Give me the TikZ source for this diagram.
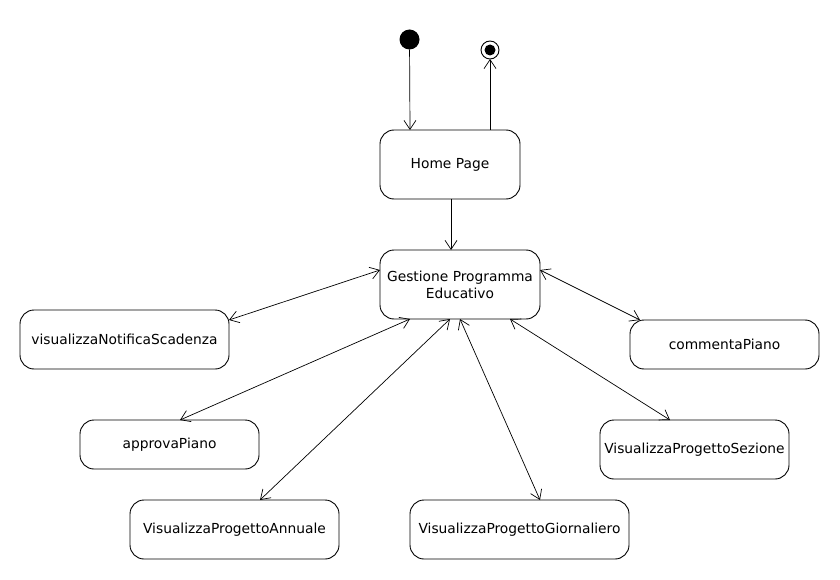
\documentclass[tikz,border=0pt]{standalone}
\usepackage{fontspec}
\setmainfont{DejaVu Sans}
\usetikzlibrary{arrows.meta,calc}
\begin{document}
\begin{tikzpicture}[x=1pt,y=-1pt,
  state/.style={draw,rectangle,rounded corners=14pt,line width=0.9pt,outer sep=0pt,inner sep=0pt,align=center,font=\fontsize{13.8}{17}\selectfont},
  conn/.style={line width=0.7pt,{Straight Barb[length=9pt,width=12pt]}-{Straight Barb[length=9pt,width=12pt]}},
  flow/.style={line width=0.7pt,-{Straight Barb[length=9pt,width=12pt]}}]
\useasboundingbox (0,0) rectangle (840,580);
\node[circle,fill=black,minimum size=20pt,inner sep=0pt,outer sep=0pt] (init) at (409.5,39.5) {};
\node[circle,draw,line width=0.9pt,minimum size=18pt,inner sep=0pt,outer sep=0pt] (fin) at (490,50) {};
\node[circle,fill=black,minimum size=11pt,inner sep=0pt] (finin) at (490,50) {};
\node[state,minimum width=140pt,minimum height=69pt] (home) at (450,164.5) {Home Page};
\node[state,minimum width=160pt,minimum height=69pt] (gest) at (460,284.5) {Gestione Programma\\Educativo};
\node[state,minimum width=209pt,minimum height=59pt] (vns) at (124.5,339.5) {visualizzaNotificaScadenza};
\node[state,minimum width=189pt,minimum height=49pt] (com) at (724.5,344.5) {commentaPiano};
\node[state,minimum width=179pt,minimum height=49pt] (ap) at (169.5,444.5) {approvaPiano};
\node[state,minimum width=189pt,minimum height=59pt] (sez) at (694.5,449.5) {VisualizzaProgettoSezione};
\node[state,minimum width=209pt,minimum height=59pt] (ann) at (234.5,529.5) {VisualizzaProgettoAnnuale};
\node[state,minimum width=219pt,minimum height=59pt] (gio) at (519.5,529.5) {VisualizzaProgettoGiornaliero};
\draw[flow] (init) -- ($(home.north)+(-40,0)$);
\draw[flow] ($(home.north)+(40,0)$) -- (fin);
\draw[flow] ($(home.south)+(1,0)$) -- ($(home.south |- gest.north)+(1,0)$);
\draw[conn] ($(vns.north east)+(0,10)$) -- ($(gest.north west)+(0,20)$);
\draw[conn] ($(ap.north)+(10.5,0)$) -- ($(gest.south west)+(30,0)$);
\draw[conn] ($(ann.north)+(25.5,0)$) -- ($(gest.south)+(-10,0)$);
\draw[conn] ($(gio.north)+(20.5,0)$) -- (gest.south);
\draw[conn] ($(sez.north)+(-24.5,0)$) -- ($(gest.south)+(50,0)$);
\draw[conn] ($(com.north west)+(10,0)$) -- ($(gest.north east)+(0,20)$);
\end{tikzpicture}
\end{document}
